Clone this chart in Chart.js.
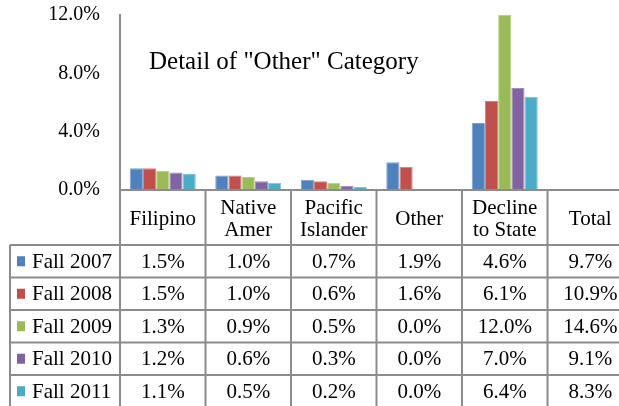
<!DOCTYPE html>
<html>
<head>
<meta charset="utf-8">
<script src="https://cdn.jsdelivr.net/npm/chart.js@4.4.1/dist/chart.umd.min.js"></script>
<style>
  html, body { margin: 0; padding: 0; background: #fff; overflow: hidden; }
  #wrap { width: 619px; height: 406px; overflow: hidden; }
  canvas { display: block; }
</style>
</head>
<body>
<div id="wrap"><canvas id="chart" width="634" height="406"></canvas></div>
<script>
// Categories (multi-line header labels as arrays)
const categories = ['Filipino', ['Native', 'Amer'], ['Pacific', 'Islander'], 'Other', ['Decline', 'to State'], 'Total'];
// Only these categories get bars; Total appears in the data table only
const plottedCategories = [true, true, true, true, true, false];

const seriesNames = ['Fall 2007', 'Fall 2008', 'Fall 2009', 'Fall 2010', 'Fall 2011'];
const fall2007 = [1.5, 1.0, 0.7, 1.9, 4.6, 9.7];
const fall2008 = [1.5, 1.0, 0.6, 1.6, 6.1, 10.9];
const fall2009 = [1.3, 0.9, 0.5, 0.0, 12.0, 14.6];
const fall2010 = [1.2, 0.6, 0.3, 0.0, 7.0, 9.1];
const fall2011 = [1.1, 0.5, 0.2, 0.0, 6.4, 8.3];
const seriesValues = [fall2007, fall2008, fall2009, fall2010, fall2011];

const yTicks = [0, 4, 8, 12];
const chartTitle = 'Detail of "Other" Category';

const fills = ['#4F81BD', '#C0504D', '#9BBB59', '#8064A2', '#4BACC6'];
const edges = ['#7DA1D0', '#D47F7D', '#B7CF87', '#A18CBD', '#7CC4D8'];
const gridGrey = '#8C8C8C';
const serif = "'Liberation Serif', 'Times New Roman', serif";
const fmt = v => v.toFixed(1) + '%';

// Geometry of the data table beneath the plot
const TABLE = { left: 10, headerBottom: 245, rowH: 32.5 };

const dataTablePlugin = {
  id: 'dataTable',
  afterDraw(chart) {
    const ctx = chart.ctx;
    const xs = chart.scales.x;
    const area = chart.chartArea;
    const n = categories.length;
    const colW = (xs.right - xs.left) / n;
    const top = area.bottom;
    const hb = TABLE.headerBottom;
    const bottom = hb + TABLE.rowH * seriesNames.length;

    ctx.save();
    // title inside the plot
    ctx.fillStyle = '#000';
    ctx.font = '25px ' + serif;
    ctx.textAlign = 'left';
    ctx.textBaseline = 'alphabetic';
    ctx.fillText(chartTitle, 149, 69);

    // grid lines
    ctx.strokeStyle = gridGrey;
    ctx.lineWidth = 2;
    ctx.beginPath();
    ctx.moveTo(xs.left, top); ctx.lineTo(xs.right, top);
    for (let r = 0; r <= seriesNames.length; r++) {
      const y = hb + r * TABLE.rowH;
      ctx.moveTo(TABLE.left, y); ctx.lineTo(xs.right, y);
    }
    for (let c = 0; c <= n; c++) {
      const x = xs.left + c * colW;
      ctx.moveTo(x, top); ctx.lineTo(x, bottom);
    }
    ctx.moveTo(TABLE.left, hb); ctx.lineTo(TABLE.left, bottom);
    ctx.stroke();

    // header labels
    ctx.font = '21px ' + serif;
    ctx.textAlign = 'center';
    const headMid = 224.5;
    categories.forEach((lab, c) => {
      const cx = xs.left + (c + 0.5) * colW;
      const lines = Array.isArray(lab) ? lab : [lab];
      const lh = 22;
      const y0 = headMid - (lines.length - 1) * lh / 2;
      lines.forEach((t, k) => ctx.fillText(t, cx, y0 + k * lh));
    });

    // rows: legend key + values
    seriesNames.forEach((name, r) => {
      const mid = hb + (r + 0.5) * TABLE.rowH;
      ctx.fillStyle = fills[r];
      ctx.fillRect(17, mid - 5, 8, 10);
      ctx.fillStyle = '#000';
      ctx.textAlign = 'left';
      ctx.fillText(name, 32, mid + 6.5);
      ctx.textAlign = 'center';
      seriesValues[r].forEach((v, c) => {
        const cx = xs.left + (c + 0.5) * colW;
        ctx.fillText(fmt(v), cx, mid + 6.5);
      });
    });
    ctx.restore();
  }
};

new Chart(document.getElementById('chart'), {
  type: 'bar',
  data: {
    labels: categories,
    datasets: seriesNames.map((name, i) => ({
      label: name,
      data: seriesValues[i].map((v, c) => plottedCategories[c] ? v : null),
      backgroundColor: fills[i],
      borderColor: edges[i],
      borderWidth: 1,
      categoryPercentage: 0.772,
      barPercentage: 1.0
    }))
  },
  options: {
    responsive: false,
    animation: false,
    devicePixelRatio: 1,
    layout: { padding: { top: 15, left: 0, right: 1, bottom: 0 } },
    plugins: {
      legend: { display: false },
      title: { display: false },
      tooltip: { enabled: false }
    },
    scales: {
      x: {
        ticks: { display: false },
        grid: { display: false, drawTicks: false },
        border: { display: false },
        afterFit(scale) { scale.height = 406 - 190; }
      },
      y: {
        min: 0,
        max: 12,
        afterBuildTicks(scale) { scale.ticks = yTicks.map(v => ({ value: v })); },
        ticks: {
          callback: v => fmt(v),
          font: { family: serif, size: 20 },
          color: '#000',
          padding: 20
        },
        grid: { display: false, drawTicks: false },
        border: { display: true, color: gridGrey, width: 2 },
        afterFit(scale) {
          scale.width = 120;
          scale.paddingTop = 0;
          scale.paddingBottom = 0;
        }
      }
    }
  },
  plugins: [dataTablePlugin]
});
</script>
</body>
</html>
